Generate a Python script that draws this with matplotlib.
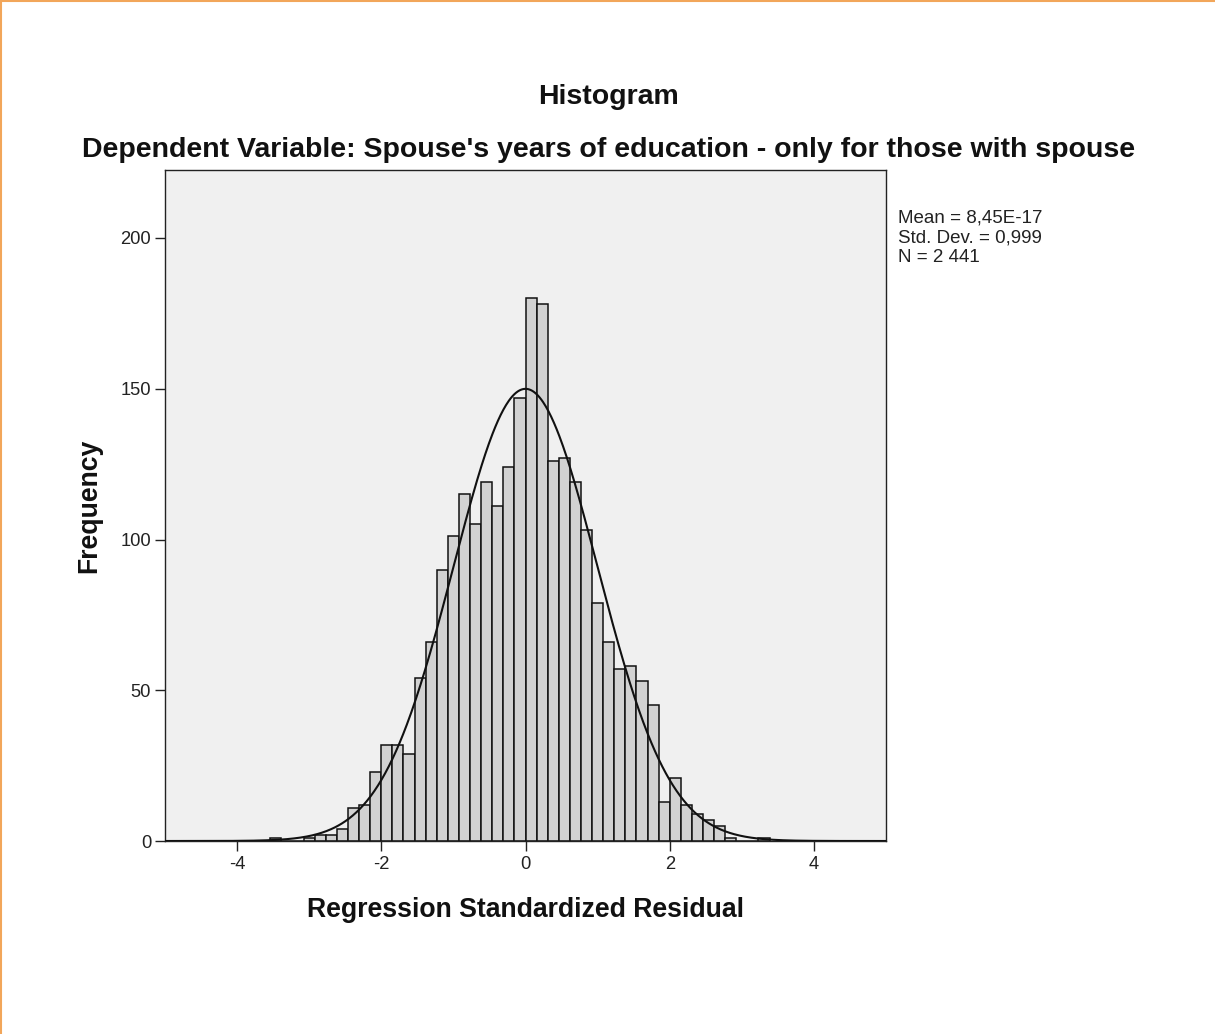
import numpy as np
import matplotlib
matplotlib.use("Agg")
import matplotlib.pyplot as plt
from matplotlib.lines import Line2D

plt.rcParams['font.family'] = ['Liberation Sans', 'DejaVu Sans']

# Histogram of standardized residuals: bins of width 2/13, starting at k = -23
bin_width = 2.0 / 13.0
first_bin_index = -23
counts = [1, 0, 0, 1, 2, 2, 4, 11, 12, 23,
          32, 32, 29, 54, 66, 90, 101, 115, 105, 119,
          111, 124, 147, 180, 178, 126, 127, 119, 103, 79,
          66, 57, 58, 53, 45, 13, 21, 12, 9, 7,
          5, 1, 0, 0, 1]

mean_val = 8.45e-17
std_val = 0.999
n_val = 2441

x_ticks = [-4, -2, 0, 2, 4]
y_ticks = [0, 50, 100, 150, 200]

title_text = "Histogram"
subtitle_text = "Dependent Variable: Spouse's years of education - only for those with spouse"
x_label = "Regression Standardized Residual"
y_label = "Frequency"
stats_lines = ["Mean = 8,45E-17", "Std. Dev. = 0,999", "N = 2 441"]

W, H = 1215, 1034
fig = plt.figure(figsize=(W / 100, H / 100), dpi=100)
fig.patch.set_facecolor('white')

# plot area in pixels: left 165, right 886, top 170, bottom 841
ax = fig.add_axes([165 / W, (H - 841) / H, (886 - 165) / W, (841 - 170) / H])
ax.set_facecolor('#F0F0F0')

left_edges = (np.arange(len(counts)) + first_bin_index) * bin_width
ax.bar(left_edges, counts, width=bin_width, align='edge',
       color='#D2D2D2', edgecolor='#111111', linewidth=1.1, zorder=2)

# fitted normal curve scaled to counts
xs = np.linspace(-5, 5, 800)
ys = n_val * bin_width / (std_val * np.sqrt(2 * np.pi)) * np.exp(-0.5 * ((xs - mean_val) / std_val) ** 2)
ax.plot(xs, ys, color='#111111', linewidth=1.5, zorder=3)

ax.set_xlim(-5, 5)
ax.set_ylim(0, (841 - 170) / 3.015)
ax.set_xticks(x_ticks)
ax.set_xticklabels([str(t) for t in x_ticks])
ax.set_yticks(y_ticks)
ax.set_yticklabels([str(t) for t in y_ticks])
ax.tick_params(axis='both', direction='out', length=7, width=1.0,
               labelsize=13.2, labelcolor='#222222', color='#222222')
ax.tick_params(axis='x', pad=4)
ax.tick_params(axis='y', pad=3)

for sp in ax.spines.values():
    sp.set_color('#222222')
    sp.set_linewidth(1.0)

ax.set_xlabel(x_label, fontsize=19.2, fontweight='bold', labelpad=17, color='#111111')
ax.set_ylabel(y_label, fontsize=19.2, fontweight='bold', labelpad=13, color='#111111')

fig.text(608 / W, 1 - 97 / H, title_text, ha='center', va='center',
         fontsize=20.5, fontweight='bold', color='#111111')
fig.text(609 / W, 1 - 150 / H, subtitle_text, ha='center', va='center',
         fontsize=20.5, fontweight='bold', color='#111111')

for i, line in enumerate(stats_lines):
    fig.text(898 / W, 1 - (218 + 20 * i) / H, line, ha='left', va='center',
             fontsize=13.5, color='#222222')

# thin orange frame on the top and left edges
fig.add_artist(Line2D([0, 1], [1 - 1 / H, 1 - 1 / H], transform=fig.transFigure,
                      color='#F2A65A', linewidth=1.5))
fig.add_artist(Line2D([1 / W, 1 / W], [0, 1], transform=fig.transFigure,
                      color='#F2A65A', linewidth=1.5))

fig.savefig("out.png", dpi=100, facecolor=fig.get_facecolor())
